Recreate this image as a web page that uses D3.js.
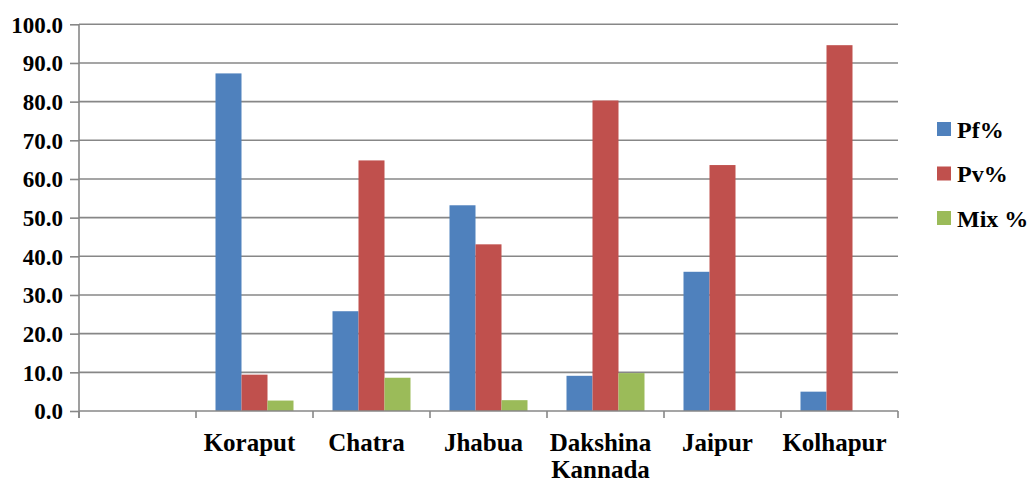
<!DOCTYPE html>
<html><head><meta charset="utf-8">
<script src="https://cdn.jsdelivr.net/npm/d3@7"></script>
<style>body{margin:0;background:#fff}svg{display:block}</style>
</head><body>
<svg id="c" width="1029" height="482"></svg>
<script>
const categories = ["", "Koraput", "Chatra", "Jhabua", "Dakshina Kannada", "Jaipur", "Kolhapur"];
const seriesNames = ["Pf%", "Pv%", "Mix %"];
const pf  = [null, 87.3, 25.8, 53.2, 9.1, 36.0, 5.0];
const pv  = [null, 9.4, 64.8, 43.1, 80.3, 63.6, 94.6];
const mix = [null, 2.7, 8.6, 2.8, 9.8, 0, 0];
const yTicks = [0, 10, 20, 30, 40, 50, 60, 70, 80, 90, 100];
const colors = ["#4F81BD", "#C0504D", "#9BBB59"];

const FONT = "Liberation Serif";
const svg = d3.select("#c");
const L = 79, R = 898, T = 24.3, B = 411;
const x = d3.scaleBand().domain(categories.map((d,i)=>i)).range([L, R]);
const y = d3.scaleLinear().domain([0, 100]).range([B, T]);
const barW = x.bandwidth() / 4.5;
const gridC = "#878787";

// gridlines
svg.append("g").selectAll("line").data(yTicks.filter(t=>t>0)).join("line")
  .attr("x1", L).attr("x2", R).attr("y1", d=>y(d)).attr("y2", d=>y(d))
  .attr("stroke", gridC).attr("stroke-width", 1.6);

// bars
const series = [pf, pv, mix];
series.forEach((vals, s) => {
  svg.append("g").selectAll("rect").data(vals.map((v,i)=>({v,i})).filter(d=>d.v)).join("rect")
    .attr("x", d => x(d.i) + x.bandwidth()/2 - 1.5*barW + s*barW)
    .attr("width", barW)
    .attr("y", d => y(d.v))
    .attr("height", d => B - y(d.v))
    .attr("fill", colors[s]);
});

// y axis
const ya = svg.append("g").attr("transform", `translate(${L},0)`)
  .call(d3.axisLeft(y).tickValues(yTicks).tickFormat(d3.format(".1f")).tickSize(9).tickPadding(7));
ya.attr("font-family", FONT).attr("font-size", 23).attr("font-weight", "bold");
ya.select(".domain").attr("stroke", gridC).attr("stroke-width", 1.6).attr("d", `M0,${T}V${B+7}`);
ya.selectAll(".tick line").attr("stroke", gridC).attr("stroke-width", 1.6);
ya.selectAll("text").attr("fill","#000").attr("dy","0.34em");

// x axis
svg.append("line").attr("x1", L).attr("x2", R).attr("y1", B).attr("y2", B).attr("stroke", gridC).attr("stroke-width", 1.6);
const bounds = categories.map((d,i)=>x(i)).concat([R]);
svg.append("g").selectAll("line").data(bounds).join("line")
  .attr("x1", d=>d).attr("x2", d=>d).attr("y1", B).attr("y2", B+7)
  .attr("stroke", gridC).attr("stroke-width", 1.6);

categories.forEach((c, i) => {
  if (!c) return;
  const words = c === "Dakshina Kannada" ? ["Dakshina", "Kannada"] : [c];
  const cx = x(i) + x.bandwidth()/2 - 5;
  const t = svg.append("text").attr("text-anchor", "middle")
    .attr("font-family", FONT).attr("font-weight", "bold").attr("font-size", 25).attr("fill", "#000")
    .attr("x", cx).attr("y", 451);
  words.forEach((w, k) => t.append("tspan").attr("x", cx).attr("dy", k ? 27 : 0).text(w));
});

// legend
seriesNames.forEach((n, s) => {
  const cy = 129 + s*44.5;
  svg.append("rect").attr("x", 937).attr("y", cy-7).attr("width", 14).attr("height", 14).attr("fill", colors[s]);
  svg.append("text").attr("x", 957).attr("y", cy).attr("dy", "0.36em")
    .attr("font-family", FONT).attr("font-weight", "bold").attr("font-size", 24).attr("fill", "#000").text(n);
});
</script>
</body></html>
